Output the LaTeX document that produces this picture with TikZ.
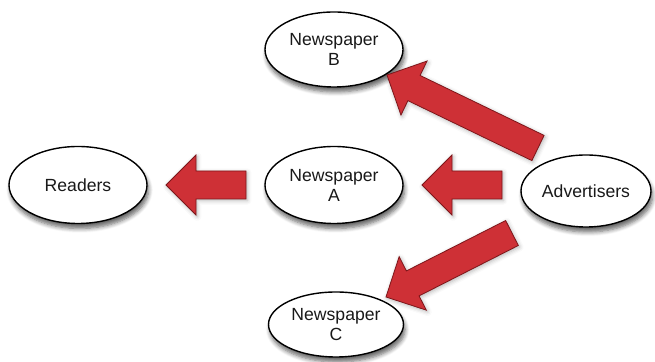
\documentclass[tikz,border=0pt]{standalone}
\usepackage{fontspec}
\setmainfont{Liberation Sans}
\usetikzlibrary{shapes.geometric, calc, shadows.blur}

\definecolor{arrowred}{RGB}{206,48,54}
\definecolor{arrowedge}{RGB}{125,22,26}
\definecolor{labelgray}{RGB}{25,25,25}

% fat block arrow from #1 (tail) to #2 (tip)
\newcommand\fatarrow[2]{%
  \coordinate (hb) at ($(#2)!15pt!(#1)$);
  \draw[fat] ($(#1)!7pt!90:(#2)$) -- ($(hb)!7pt!90:(#2)$)
    -- ($(hb)!15pt!90:(#2)$) -- (#2) -- ($(hb)!15pt!-90:(#2)$)
    -- ($(hb)!7pt!-90:(#2)$) -- ($(#1)!7pt!-90:(#2)$) -- cycle;}

\begin{document}
\begin{tikzpicture}[
    x=0.5pt,y=-0.5pt,
    paper/.style={ellipse, draw=black, line width=0.7pt, fill=white,
      text=labelgray, align=center, inner sep=0pt,
      font=\fontsize{8.8}{10}\selectfont,
      minimum width=69pt, minimum height=38.5pt,
      blur shadow={shadow xshift=0.8pt, shadow yshift=-2.5pt, shadow blur steps=6, shadow opacity=60}},
    fat/.style={fill=arrowred, draw=arrowedge, line width=0.4pt, line join=miter,
      blur shadow={shadow xshift=0.6pt, shadow yshift=-0.8pt, shadow blur steps=4, shadow opacity=30}}
    ]
    \useasboundingbox (0,0) rectangle (655,362);
    \node[paper] (readers) at (78,185) {Readers};
    \node[paper] (npa) at (334,185) {Newspaper\\A};
    \node[paper, minimum height=37.5pt] (npb) at (334,49.5) {Newspaper\\B};
    \node[paper, minimum width=65pt, minimum height=36pt] (adv) at (586,191) {Advertisers};
    \node[paper, minimum width=67.5pt, minimum height=32.5pt] (npc) at (336,324.5) {Newspaper\\C};
    % arrow ends
    \coordinate (rtail) at (246,185);
    \coordinate (rtip) at (166,185);
    \coordinate (atail) at (502,185);
    \coordinate (atip) at (422,185);
    \coordinate (btail) at (538,148);
    \coordinate (btip) at (387,75);
    \coordinate (ctail) at (512,233);
    \coordinate (ctip) at (386,297);
    \fatarrow{rtail}{rtip}
    \fatarrow{atail}{atip}
    \fatarrow{btail}{btip}
    \fatarrow{ctail}{ctip}
  \end{tikzpicture}
\end{document}
